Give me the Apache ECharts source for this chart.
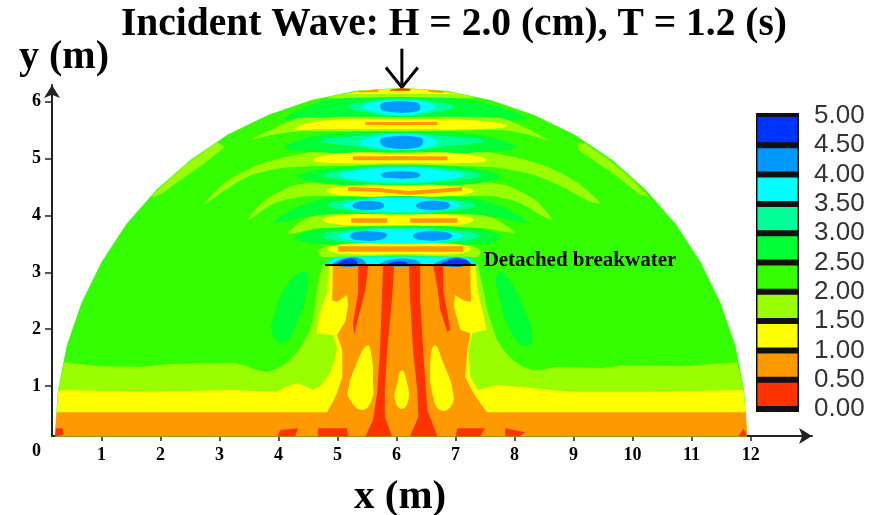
<!DOCTYPE html>
<html><head><meta charset="utf-8">
<style>html,body{margin:0;padding:0;background:#fff}#c{width:870px;height:515px}</style>
<script src="https://cdn.jsdelivr.net/npm/echarts@6/dist/echarts.min.js"></script>
</head><body><div id="c"></div>
<script>
// tick labels and legend classes
const xTicks=[1,2,3,4,5,6,7,8,9,10,11,12];
const yTicks=[1,2,3,4,5,6];
const legendLow=[0,0.5,1,1.5,2,2.5,3,3.5,4,4.5];
const legendTicks=[0,0.5,1,1.5,2,2.5,3,3.5,4,4.5,5];
const RED=0,ORANGE=1,YELLOW=2,LIME=3,BRIGHT=4,GREEN=5,AQUA=6,CYAN=7,SKY=8,BLUE=9;
// contour regions, in metres
const dome=[[.21,.12],[.26,.92],[.41,1.71],[.66,2.46],[1.0,3.18],[1.42,3.85],[1.93,4.45],[2.51,4.98],[3.14,5.42],[3.83,5.77],[4.56,6.03],[5.31,6.19],[6.08,6.24],[6.84,6.19],[7.59,6.03],[8.32,5.77],[9.01,5.42],[9.65,4.98],[10.22,4.45],[10.73,3.85],[11.15,3.18],[11.49,2.46],[11.74,1.71],[11.89,.92],[11.94,.12]];
const limeBase=[[.36,1.42],[.97,1.35],[1.70,1.34],[2.16,1.39],[3.23,1.41],[3.40,1.37],[3.60,1.29],[3.81,1.25],[3.98,1.31],[4.14,1.41],[4.30,1.58],[4.42,1.76],[4.52,1.96],[4.58,2.16],[4.65,2.69],[4.74,3.13],[7.38,3.13],[7.55,2.28],[7.70,1.81],[7.82,1.62],[7.97,1.46],[8.12,1.35],[8.31,1.28],[8.50,1.29],[8.69,1.34],[9.45,1.32],[9.91,1.37],[10.81,1.35],[11.77,1.42],[11.87,1.00],[11.94,.12],[.21,.12],[.28,1.00]];
const yellowBase=[[.27,.93],[1.82,.90],[3.18,.93],[3.97,.90],[4.15,1.00],[4.31,1.05],[4.45,1.00],[4.58,.93],[4.68,.98],[4.75,1.05],[4.87,1.23],[4.95,1.45],[4.99,1.69],[4.92,1.90],[4.64,1.93],[4.70,2.28],[4.82,2.64],[4.87,3.13],[7.33,3.13],[7.38,2.64],[7.53,1.99],[7.28,1.93],[7.21,1.63],[7.25,1.16],[7.38,.93],[7.70,1.02],[8.14,.98],[8.94,.90],[10.30,.90],[11.88,.93],[11.94,.12],[.21,.12]];
const orangeBase=[[.24,.54],[4.82,.54],[4.92,.72],[4.99,.88],[5.08,1.16],[5.08,1.63],[4.99,1.90],[5.13,2.13],[5.18,2.43],[5.16,2.60],[4.99,2.48],[4.91,2.51],[4.92,3.13],[7.25,3.13],[7.26,2.48],[7.13,2.51],[6.99,2.60],[6.97,2.39],[7.08,1.99],[7.25,1.93],[7.20,1.63],[7.16,1.16],[7.30,.88],[7.42,.70],[7.53,.54],[11.92,.54],[11.94,.12],[.21,.12]];
const blobLeft=[[5.50,1.72],[5.58,1.51],[5.60,1.05],[5.58,.76],[5.42,.58],[5.21,.76],[5.18,.93],[5.30,1.34]];
const blobRight=[[6.65,1.72],[6.79,1.41],[6.96,.88],[6.91,.63],[6.74,.58],[6.62,.81],[6.57,1.41]];
const blobCentre=[[6.09,1.28],[6.18,1.05],[6.20,.76],[6.09,.60],[5.97,.76],[6.01,1.05]];
const streakCL=[[5.77,3.13],[5.96,3.13],[5.92,2.51],[5.84,1.63],[5.80,.93],[5.80,.46],[5.92,.12],[5.47,.12],[5.60,.40],[5.67,.88],[5.72,1.63],[5.75,2.51]];
const streakCR=[[6.21,3.13],[6.40,3.13],[6.40,2.51],[6.45,1.63],[6.52,.58],[6.69,.12],[6.23,.12],[6.37,.46],[6.35,.93],[6.28,1.63],[6.23,2.51]];
const streakLO=[[5.35,3.13],[5.52,3.13],[5.47,2.69],[5.35,2.22],[5.28,1.90],[5.26,2.11],[5.35,2.64]];
const streakRO=[[6.62,3.13],[6.79,3.13],[6.79,2.69],[6.91,1.99],[6.86,1.95],[6.74,2.34],[6.69,2.74]];
const patch1=[[3.98,.12],[4.03,.23],[4.33,.26],[4.28,.12]];
const patch2=[[4.67,.12],[4.67,.26],[5.16,.26],[5.18,.12]];
const patch3=[[7.0,.12],[7.03,.26],[7.50,.26],[7.42,.12]];
const patch4=[[7.84,.12],[7.84,.26],[8.18,.19],[8.09,.12]];
const cornerL=[[.21,.12],[.23,.26],[.34,.26],[.36,.14]];
const cornerR=[[11.79,.12],[11.88,.26],[11.94,.12]];
const sideLeft=[[4.45,3.01],[4.50,2.81],[4.31,2.11],[4.08,1.76],[3.89,1.93],[3.94,2.28],[4.16,2.81]];
const sideRight=[[7.70,2.99],[7.87,2.92],[8.14,2.39],[8.30,1.81],[8.14,1.72],[7.92,1.99],[7.75,2.51]];
const rimStripL=[[1.82,4.32],[2.08,4.57],[2.42,4.89],[2.75,5.13],[2.96,5.29],[3.08,5.20],[2.75,4.92],[2.33,4.62],[1.99,4.36]];
const rimStripR=[[9.19,5.27],[9.62,4.96],[9.96,4.66],[10.28,4.33],[10.13,4.36],[9.70,4.71],[9.28,5.01],[9.08,5.15],[9.08,5.27]];
const rimLime=[[4.79,6.07],[5.09,6.14],[5.38,6.19],[5.72,6.22],[6.08,6.235],[6.40,6.22],[6.74,6.19],[7.08,6.14],[7.37,6.07],[7.08,6.06],[6.06,6.08],[5.04,6.06]];
const rimYellow=[[5.12,6.13],[5.38,6.18],[5.72,6.21],[6.08,6.23],[6.40,6.21],[6.74,6.18],[7.05,6.13],[6.06,6.14]];
const rimRed=[[5.89,6.21],[6.08,6.235],[6.23,6.22],[6.23,6.19],[5.89,6.19]];
const rimOrangeL=[[5.35,6.18],[5.69,6.21],[5.69,6.17],[5.35,6.16]];
const rimOrangeR=[[6.54,6.21],[6.79,6.18],[6.79,6.15],[6.54,6.17]];
const wing1=[[3.55,5.34],[3.94,5.54],[4.36,5.71],[6.06,5.73],[7.75,5.71],[8.18,5.54],[8.58,5.32],[8.18,5.43],[7.75,5.50],[6.06,5.47],[4.36,5.48],[3.86,5.41]];
const wing2=[[2.72,4.18],[3.09,4.58],[3.60,4.87],[4.28,5.06],[4.87,5.15],[6.06,5.15],[7.25,5.15],[7.92,5.04],[8.52,4.87],[9.03,4.60],[9.45,4.22],[9.28,4.24],[8.77,4.52],[8.26,4.73],[7.58,4.85],[6.06,4.87],[4.70,4.87],[4.03,4.83],[3.52,4.70],[3.09,4.44]];
const wing3=[[3.48,3.92],[3.77,4.27],[4.28,4.53],[4.87,4.60],[6.06,4.62],[7.25,4.60],[7.84,4.53],[8.35,4.27],[8.64,3.92],[8.43,4.01],[8.09,4.22],[7.58,4.34],[6.06,4.30],[4.53,4.34],[3.94,4.22]];
const wing4=[[4.16,3.69],[4.45,3.94],[4.87,4.04],[6.06,4.06],[7.25,4.04],[7.67,3.94],[8.01,3.69],[7.84,3.71],[7.42,3.78],[6.06,3.76],[4.70,3.78],[4.36,3.71]];
const wing5=[[4.67,3.39],[5.04,3.53],[6.06,3.55],[7.08,3.53],[7.42,3.39],[7.37,3.27],[6.06,3.27],[4.74,3.27]];
const green1=[[4.11,5.71],[4.70,5.99],[5.38,6.08],[6.06,6.08],[6.74,6.08],[7.42,5.99],[8.21,5.71],[7.42,5.69],[6.06,5.68],[4.70,5.69]];
const aqua1=[[5.18,5.91],[5.55,6.01],[6.06,6.05],[6.57,6.01],[6.96,5.91],[6.57,5.80],[6.06,5.75],[5.55,5.80]];
const cyan1=[[5.43,5.91],[5.72,6.01],[6.06,6.03],[6.40,6.01],[6.65,5.91],[6.40,5.80],[6.06,5.76],[5.72,5.80]];
const sky1=[[5.72,5.92],[5.81,5.99],[6.31,5.99],[6.40,5.92],[6.35,5.83],[5.81,5.83]];
const green2=[[4.11,5.20],[4.70,5.41],[6.06,5.48],[7.42,5.41],[8.01,5.20],[7.42,5.11],[6.06,5.08],[4.70,5.11]];
const aqua2=[[4.70,5.31],[5.38,5.40],[6.06,5.45],[6.74,5.40],[7.47,5.31],[6.74,5.20],[6.06,5.15],[5.38,5.20]];
const cyan2=[[5.38,5.29],[5.72,5.41],[6.06,5.43],[6.40,5.41],[6.69,5.29],[6.40,5.17],[6.06,5.15],[5.72,5.17]];
const sky2=[[5.72,5.31],[5.82,5.38],[6.37,5.38],[6.45,5.31],[6.37,5.20],[5.82,5.20]];
const green3=[[4.33,4.69],[4.87,4.83],[6.06,4.89],[7.25,4.83],[7.75,4.69],[7.25,4.55],[6.06,4.52],[4.87,4.55]];
const aqua3=[[4.75,4.71],[5.38,4.83],[6.06,4.87],[6.74,4.83],[7.42,4.71],[6.74,4.59],[6.06,4.55],[5.38,4.59]];
const cyan3=[[5.04,4.71],[5.55,4.82],[6.06,4.83],[6.57,4.82],[7.13,4.71],[6.57,4.60],[6.06,4.59],[5.55,4.60]];
const sky3=[[5.74,4.71],[5.82,4.76],[6.33,4.76],[6.40,4.71],[6.33,4.66],[5.82,4.66]];
const green4=[[3.91,3.87],[4.28,4.13],[4.87,4.31],[6.06,4.34],[7.25,4.31],[7.84,4.13],[8.21,3.87],[7.67,3.97],[7.25,4.02],[6.06,4.02],[4.87,4.02],[4.45,3.97]];
const aqua4=[[4.84,4.18],[5.38,4.29],[6.06,4.32],[6.74,4.29],[7.33,4.18],[6.74,4.06],[6.06,4.04],[5.38,4.06]];
const cyan4=[[5.08,4.18],[5.55,4.29],[6.06,4.31],[6.57,4.29],[7.08,4.18],[6.57,4.08],[6.06,4.06],[5.55,4.08]];
const sky4L=[[5.25,4.17],[5.35,4.24],[5.69,4.24],[5.79,4.17],[5.69,4.11],[5.35,4.11]];
const sky4R=[[6.33,4.17],[6.43,4.24],[6.82,4.24],[6.91,4.18],[6.82,4.11],[6.43,4.11]];
const green5=[[4.28,3.60],[4.70,3.76],[6.06,3.81],[7.42,3.76],[7.75,3.60],[7.42,3.50],[6.06,3.46],[4.70,3.50]];
const aqua5=[[4.74,3.64],[5.38,3.76],[6.06,3.78],[6.74,3.76],[7.42,3.64],[6.74,3.51],[6.06,3.50],[5.38,3.51]];
const cyan5=[[5.01,3.64],[5.55,3.74],[6.06,3.76],[6.57,3.74],[7.13,3.64],[6.57,3.53],[6.06,3.51],[5.55,3.53]];
const sky5L=[[5.21,3.64],[5.31,3.71],[5.72,3.71],[5.84,3.66],[5.72,3.57],[5.31,3.57]];
const sky5R=[[6.28,3.64],[6.40,3.71],[6.82,3.71],[6.94,3.64],[6.82,3.57],[6.40,3.57]];
const yellow1=[[4.28,5.52],[4.70,5.66],[6.06,5.69],[7.42,5.66],[7.87,5.57],[7.42,5.52],[6.06,5.52],[4.70,5.52]];
const orange1=[[5.47,5.64],[6.69,5.64],[6.69,5.59],[5.47,5.59]];
const yellow2=[[4.58,4.97],[4.95,5.08],[6.06,5.10],[7.16,5.08],[7.53,4.97],[7.16,4.92],[6.06,4.92],[4.95,4.92]];
const orange2=[[5.26,5.04],[6.86,5.04],[6.86,4.97],[5.26,4.97]];
const yellow3=[[4.82,4.43],[5.21,4.52],[6.06,4.53],[6.91,4.52],[7.30,4.43],[6.91,4.34],[6.06,4.34],[5.21,4.34]];
const orange3=[[5.18,4.50],[5.7,4.48],[6.2,4.43],[7.11,4.50],[7.11,4.43],[6.2,4.36],[5.7,4.41],[5.18,4.43]];
const yellow4=[[4.75,3.92],[5.13,4.01],[6.06,4.01],[6.99,4.01],[7.30,3.92],[6.99,3.83],[6.06,3.83],[5.13,3.83]];
const orange4L=[[5.23,3.95],[5.84,3.95],[5.84,3.87],[5.23,3.87]];
const orange4R=[[6.23,3.95],[7.03,3.95],[7.03,3.87],[6.23,3.87]];
const yellow5=[[4.84,3.41],[5.13,3.50],[6.06,3.50],[6.99,3.50],[7.25,3.41],[6.99,3.32],[6.06,3.32],[5.13,3.32]];
const orange5=[[5.01,3.46],[7.13,3.46],[7.13,3.36],[5.01,3.36]];
const aqua6=[[4.74,3.13],[4.89,3.27],[6.06,3.30],[7.25,3.27],[7.38,3.13]];
const cyan6=[[4.82,3.13],[4.95,3.25],[6.06,3.27],[7.2,3.25],[7.33,3.13]];
const sky6L=[[4.92,3.13],[5.1,3.24],[5.4,3.24],[5.47,3.13]];
const sky6M=[[5.72,3.13],[5.9,3.22],[6.3,3.22],[6.4,3.13]];
const sky6R=[[6.65,3.13],[6.85,3.24],[7.15,3.24],[7.25,3.13]];
const blue6L=[[5.0,3.13],[5.1,3.22],[5.3,3.22],[5.32,3.13]];
const blue6M=[[5.85,3.13],[5.95,3.18],[6.15,3.18],[6.18,3.13]];
const blue6R=[[6.77,3.13],[6.9,3.22],[7.15,3.22],[7.25,3.13]];
const breakwater=[[4.79,3.13],[7.34,3.13]];
const arrowStem=[[6.09,6.93],[6.09,6.25]];
const arrowHead=[[5.82,6.60],[6.09,6.25],[6.36,6.60]];
// painter's order: [class, points, outline rounding]
const layers=[
[BRIGHT,dome,0],[LIME,limeBase,0],[YELLOW,yellowBase,0],[ORANGE,orangeBase,0],
[YELLOW,blobLeft,.5],[YELLOW,blobRight,.5],[YELLOW,blobCentre,.5],
[RED,streakCL,0],[RED,streakCR,0],[RED,streakLO,0],[RED,streakRO,0],
[RED,patch1,0],[RED,patch2,0],[RED,patch3,0],[RED,patch4,0],[RED,cornerL,0],[RED,cornerR,0],
[GREEN,sideLeft,.5],[GREEN,sideRight,.5],[LIME,rimStripL,0],[LIME,rimStripR,0],
[GREEN,green1,.3],[LIME,wing1,.25],[LIME,wing2,.25],[LIME,wing3,.25],[LIME,wing4,.25],[LIME,wing5,.25],
[GREEN,green2,.4],[GREEN,green3,.4],[GREEN,green4,.3],[GREEN,green5,.4],
[LIME,rimLime,0],[YELLOW,rimYellow,0],[ORANGE,rimOrangeL,0],[ORANGE,rimOrangeR,0],[RED,rimRed,0],
[AQUA,aqua1,.5],[CYAN,cyan1,.5],[SKY,sky1,.5],[AQUA,aqua2,.5],[CYAN,cyan2,.5],[SKY,sky2,.5],
[AQUA,aqua3,.5],[CYAN,cyan3,.5],[SKY,sky3,.5],[AQUA,aqua4,.5],[CYAN,cyan4,.5],[SKY,sky4L,.5],[SKY,sky4R,.5],
[AQUA,aqua5,.5],[CYAN,cyan5,.5],[SKY,sky5L,.5],[SKY,sky5R,.5],
[YELLOW,yellow1,.5],[ORANGE,orange1,0],[YELLOW,yellow2,.5],[ORANGE,orange2,0],
[YELLOW,yellow3,.5],[ORANGE,orange3,0],[YELLOW,yellow4,.5],[ORANGE,orange4L,0],[ORANGE,orange4R,0],
[YELLOW,yellow5,.5],[ORANGE,orange5,0],
[AQUA,aqua6,0],[CYAN,cyan6,0],[SKY,sky6L,.5],[SKY,sky6M,.5],[SKY,sky6R,.5],[BLUE,blue6L,.5],[BLUE,blue6M,.5],[BLUE,blue6R,.5]
];
const palette=['#ff3300','#ff9900','#ffff00','#99ff00','#33ff00','#00ff33','#00ff99','#00ffff','#0099ff','#0033ff'];
const serif='"Liberation Serif","Times New Roman",serif';
const chart=echarts.init(document.getElementById('c'),null,{renderer:'canvas'});
const axisCol='#222';
chart.setOption({
animation:false,backgroundColor:'#fff',
title:[
{text:'Incident Wave: H = 2.0 (cm), T = 1.2 (s)',left:116,top:0,textStyle:{fontFamily:serif,fontWeight:'bold',fontSize:39.5,color:'#000'}},
{text:'y (m)',left:14,top:33,textStyle:{fontFamily:serif,fontWeight:'bold',fontSize:40,color:'#000'}},
{text:'x (m)',left:349,top:472,textStyle:{fontFamily:serif,fontWeight:'bold',fontSize:41,color:'#000'}},
{text:'0',left:27,top:437,textStyle:{fontFamily:serif,fontWeight:'bold',fontSize:18,color:'#000'}}
],
grid:[{left:52,top:85,width:760,height:351},{left:756,top:116,width:43,height:293}],
xAxis:[
{type:'value',min:0.161,max:13.04,gridIndex:0,splitLine:{show:false},
 axisLine:{show:true,symbol:['none','arrow'],symbolSize:[12,13],lineStyle:{color:axisCol,width:2}},
 axisTick:{show:true,length:5,lineStyle:{color:axisCol,width:1.5},customValues:xTicks},
 axisLabel:{customValues:xTicks,margin:10,fontFamily:serif,fontWeight:'bold',fontSize:18,color:'#000'}},
{type:'value',min:0,max:1,gridIndex:1,show:false}
],
yAxis:[
{type:'value',min:0.123,max:6.292,gridIndex:0,splitLine:{show:false},
 axisLine:{show:true,symbol:['none','arrow'],symbolSize:[12,13],lineStyle:{color:axisCol,width:2}},
 axisTick:{show:true,length:7,lineStyle:{color:axisCol,width:1.5},customValues:yTicks},
 axisLabel:{customValues:yTicks,margin:11,fontFamily:serif,fontWeight:'bold',fontSize:18,color:'#000'}},
{type:'value',min:0,max:5,gridIndex:1,position:'right',splitLine:{show:false},
 axisLine:{show:false},axisTick:{show:false},
 axisLabel:{customValues:legendTicks,margin:15,fontFamily:'"Liberation Sans",Arial,sans-serif',fontSize:26,color:'#333',formatter:v=>v.toFixed(2)}}
],
series:[
{type:'custom',xAxisIndex:0,yAxisIndex:0,clip:false,silent:true,
 data:layers.map((l,i)=>[i]),
 renderItem:(p,api)=>{const l=layers[p.dataIndex];
  return {type:'polygon',shape:{points:l[1].map(c=>api.coord(c)),smooth:l[2]},style:{fill:palette[l[0]],stroke:null}};}},
{type:'line',xAxisIndex:0,yAxisIndex:0,data:breakwater,symbol:'none',clip:false,silent:true,lineStyle:{color:'#000',width:2},
 endLabel:{show:true,formatter:'Detached breakwater',distance:8,offset:[0,-4],fontFamily:serif,fontWeight:'bold',fontSize:21,color:'#000'}},
{type:'line',xAxisIndex:0,yAxisIndex:0,data:arrowStem,symbol:'none',clip:false,silent:true,lineStyle:{color:'#000',width:3}},
{type:'line',xAxisIndex:0,yAxisIndex:0,data:arrowHead,symbol:'none',clip:false,silent:true,lineStyle:{color:'#000',width:3}},
{type:'custom',xAxisIndex:1,yAxisIndex:1,silent:true,clip:false,
 data:legendLow.map((v,i)=>[v,i]),
 renderItem:(p,api)=>{const low=legendLow[p.dataIndex],a=api.coord([0,low]),b=api.coord([1,low+0.5]);
  const w=b[0]-a[0],h=a[1]-b[1];
  return {type:'group',children:[
   {type:'rect',shape:{x:a[0],y:b[1]-3,width:w,height:h+6},style:{fill:'#111'}},
   {type:'rect',shape:{x:a[0]+1.5,y:b[1]+1,width:w-3,height:h-4},style:{fill:palette[p.dataIndex]}}
  ]};}}
]
});
</script></body></html>
